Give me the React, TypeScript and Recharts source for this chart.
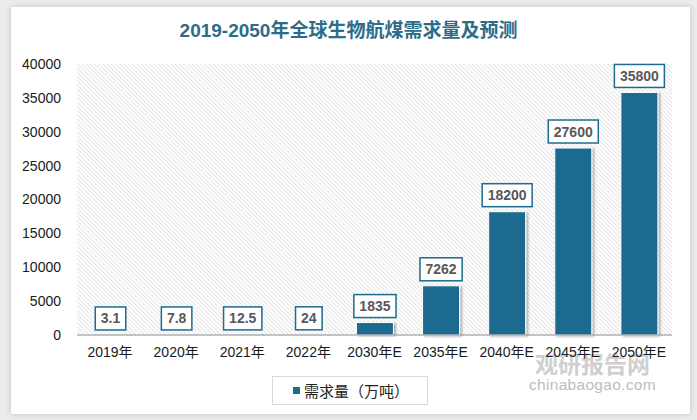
import React from 'react';
import { BarChart, Bar, XAxis, YAxis, CartesianGrid, LabelList, Legend } from 'recharts';

const categories = ['2019年', '2020年', '2021年', '2022年', '2030年E', '2035年E', '2040年E', '2045年E', '2050年E'];
const demand = [3.1, 7.8, 12.5, 24, 1835, 7262, 18200, 27600, 35800];
const yTicks = [0, 5000, 10000, 15000, 20000, 25000, 30000, 35000, 40000];
const seriesName = '需求量（万吨）';
const title = '2019-2050年全球生物航煤需求量及预测';

const data = categories.map((c, i) => ({ name: c, value: demand[i] }));

const BAR = '#1D6B8F';
const FONT = '"Liberation Sans", Arial, "Noto Sans CJK SC", sans-serif';

const textWidth = (s: string) => {
  let w = 0;
  for (const ch of s) w += ch === '.' ? 3.9 : 7.8;
  return w;
};

const ValueLabel = (props: any) => {
  const { x, y, width, value } = props;
  const s = String(value);
  const w = textWidth(s) + 11;
  const h = 23;
  const cx = x + width / 2;
  const top = y - 5 - h;
  return (
    <g>
      <rect x={cx - w / 2} y={top} width={w} height={h} fill="#ffffff" stroke={BAR} strokeWidth={1.5} />
      <text x={cx} y={top + h / 2 + 5} textAnchor="middle" fontFamily={FONT} fontSize={14} fontWeight="bold" fill="#595959">
        {s}
      </text>
    </g>
  );
};

const BarShape = (props: any) => {
  const { x, y, width, height } = props;
  if (height <= 0) return <g />;
  return <rect x={x} y={y} width={width} height={height} fill={BAR} stroke="#ffffff" strokeWidth={1} filter="url(#barShadow)" />;
};

const LegendBox = () => (
  <div
    style={{
      width: 154,
      height: 27,
      border: '1px solid #d9d9d9',
      display: 'flex',
      alignItems: 'center',
      boxSizing: 'content-box',
      fontFamily: FONT,
      fontSize: 15,
      color: '#222',
    }}
  >
    <span style={{ display: 'inline-block', width: 7, height: 7, background: BAR, marginLeft: 20, marginRight: 4 }} />
    <span>{seriesName}</span>
  </div>
);

export default function App() {
  return (
    <div style={{ position: 'absolute', left: 0, top: 0, width: 697, height: 420, background: '#ececec', overflow: 'hidden' }}>
      <div
        style={{
          position: 'absolute',
          left: 11,
          top: 7,
          width: 679,
          height: 407,
          background: '#ffffff',
          boxShadow: '0 0 6px rgba(0,0,0,0.18)',
        }}
      />
      <div
        style={{
          position: 'absolute',
          left: 0,
          top: 19,
          width: 697,
          textAlign: 'center',
          fontFamily: '"Liberation Sans", "Noto Sans CJK SC", sans-serif',
          fontWeight: 'bold',
          fontSize: 19,
          color: '#2C6C8B',
          lineHeight: '24px',
        }}
      >
        {title}
      </div>
      <div style={{ position: 'absolute', left: 535, top: 350, fontFamily: '"Noto Sans CJK SC", sans-serif', fontWeight: 'bold', fontSize: 23, color: '#cfcfcf', lineHeight: '26px' }}>
        观研报告网
      </div>
      <div style={{ position: 'absolute', left: 529, top: 376, fontFamily: FONT, fontSize: 15.5, color: '#bdbdbd', lineHeight: '18px', letterSpacing: 0.3 }}>
        chinabaogao.com
      </div>
      <div style={{ position: 'absolute', left: 0, top: 0 }}>
        <BarChart width={697} height={420} data={data} margin={{ top: 64, right: 25, left: 0, bottom: 0 }}>
          <defs>
            <pattern id="hatch" patternUnits="userSpaceOnUse" width="3" height="3" patternTransform="rotate(-45)">
              <rect x="0" y="0" width="3" height="3" fill="#ffffff" />
              <line x1="0" y1="0" x2="0" y2="3" stroke="#d2d2d2" strokeWidth="1.2" />
            </pattern>
            <filter id="barShadow" x="-20%" y="-5%" width="150%" height="115%">
              <feDropShadow dx="2" dy="1" stdDeviation="1.2" floodColor="#000000" floodOpacity="0.3" />
            </filter>
          </defs>
          <CartesianGrid horizontal={false} vertical={false} fill="url(#hatch)" fillOpacity={1} />
          <XAxis
            dataKey="name"
            height={85}
            axisLine={{ stroke: '#8c8c8c', strokeWidth: 1 }}
            tickLine={false}
            tickMargin={6}
            interval={0}
            tick={{ fontFamily: FONT, fontSize: 14, fill: '#1a1a1a' }}
          />
          <YAxis
            width={77}
            domain={[0, 40000]}
            ticks={yTicks}
            axisLine={false}
            tickLine={false}
            tickMargin={10}
            interval={0}
            tick={{ fontFamily: FONT, fontSize: 14, fill: '#1a1a1a' }}
          />
          <Legend
            verticalAlign="middle"
            layout="horizontal"
            wrapperStyle={{ position: 'absolute', left: 272, top: 376, width: 156, height: 29 }}
            content={() => <LegendBox />}
          />
          <Bar dataKey="value" name={seriesName} fill={BAR} barSize={37} isAnimationActive={false} shape={BarShape}>
            <LabelList dataKey="value" content={ValueLabel} />
          </Bar>
        </BarChart>
      </div>
    </div>
  );
}
